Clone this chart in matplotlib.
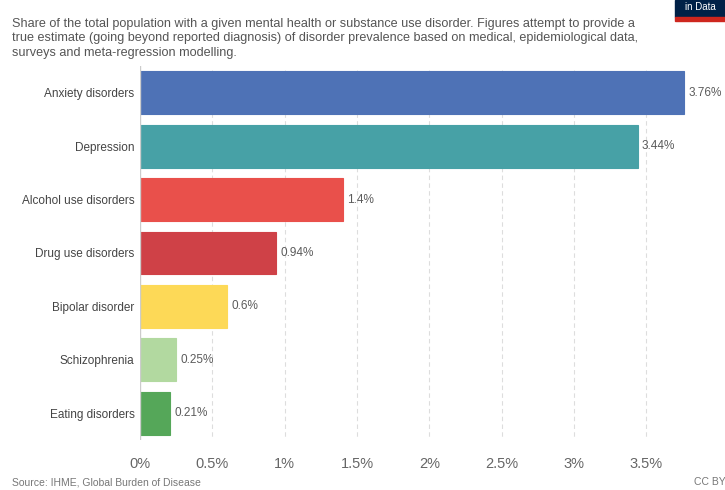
import matplotlib.pyplot as plt
from matplotlib.patches import Rectangle

# Data
disorders = ["Anxiety disorders", "Depression", "Alcohol use disorders",
             "Drug use disorders", "Bipolar disorder", "Schizophrenia",
             "Eating disorders"]
shares = [3.76, 3.44, 1.4, 0.94, 0.6, 0.25, 0.21]
share_labels = ["3.76%", "3.44%", "1.4%", "0.94%", "0.6%", "0.25%", "0.21%"]
bar_colors = ["#4E72B6", "#47A1A6", "#E9504B", "#CF4147", "#FDD957",
              "#B2D9A0", "#55A759"]
x_ticks = [0, 0.5, 1, 1.5, 2, 2.5, 3, 3.5]
x_tick_labels = ["0%", "0.5%", "1%", "1.5%", "2%", "2.5%", "3%", "3.5%"]

plt.rcParams['font.family'] = ['Liberation Sans', 'DejaVu Sans']

fig = plt.figure(figsize=(7.25, 4.9), dpi=100)
ax = fig.add_axes([140 / 725, 1 - 440 / 490, 557 / 725, 374 / 490])

ypos = list(range(len(disorders)))
ax.barh(ypos, shares, height=0.8, color=bar_colors, edgecolor=bar_colors,
        linewidth=0.8, zorder=3)
for y, v, lab in zip(ypos, shares, share_labels):
    ax.text(v + 0.03, y, lab, va='center', ha='left', fontsize=8.5,
            color='#5b5b5b')

ax.set_ylim(len(disorders) - 0.5, -0.5)
ax.set_xlim(0, 3.85)
ax.set_yticks(ypos)
ax.set_yticklabels(disorders, fontsize=8.5, color='#444444')
ax.set_xticks(x_ticks)
ax.set_xticklabels(x_tick_labels, fontsize=10.5, color='#666666')
ax.tick_params(axis='y', length=0, pad=4)
ax.tick_params(axis='x', length=0, pad=12)
for s in ax.spines.values():
    s.set_visible(False)
ax.axvline(0, color='#cccccc', linewidth=1, zorder=4)
for t in x_ticks[1:]:
    ax.axvline(t, color='#dddddd', linewidth=0.8, linestyle=(0, (4, 3)),
               ymin=-0.01, ymax=0.99, zorder=1)

# subtitle text
fig.text(12 / 725, 1 - 38.5 / 490,
         "Share of the total population with a given mental health or substance use disorder. Figures attempt to provide a\n"
         "true estimate (going beyond reported diagnosis) of disorder prevalence based on medical, epidemiological data,\n"
         "surveys and meta-regression modelling.",
         fontsize=9.05, color='#555555', va='center', ha='left',
         linespacing=1.26)

# footer
fig.text(12 / 725, 1 - 482 / 490, "Source: IHME, Global Burden of Disease",
         fontsize=7.5, color='#777777', va='center')
fig.text(694 / 725, 1 - 482 / 490, "CC BY", fontsize=7.5, color='#777777',
         va='center')

# cropped logo in top right corner
fig.patches.append(Rectangle((675 / 725, 1 - 17 / 490), 50 / 725, 17 / 490,
                             transform=fig.transFigure, color='#002147'))
fig.patches.append(Rectangle((675 / 725, 1 - 21 / 490), 50 / 725, 4 / 490,
                             transform=fig.transFigure, color='#CE261E'))
fig.text(700 / 725, 1 - 7 / 490, "in Data", fontsize=7, color='white',
         ha='center', va='center')

fig.savefig("out.png", dpi=100)
